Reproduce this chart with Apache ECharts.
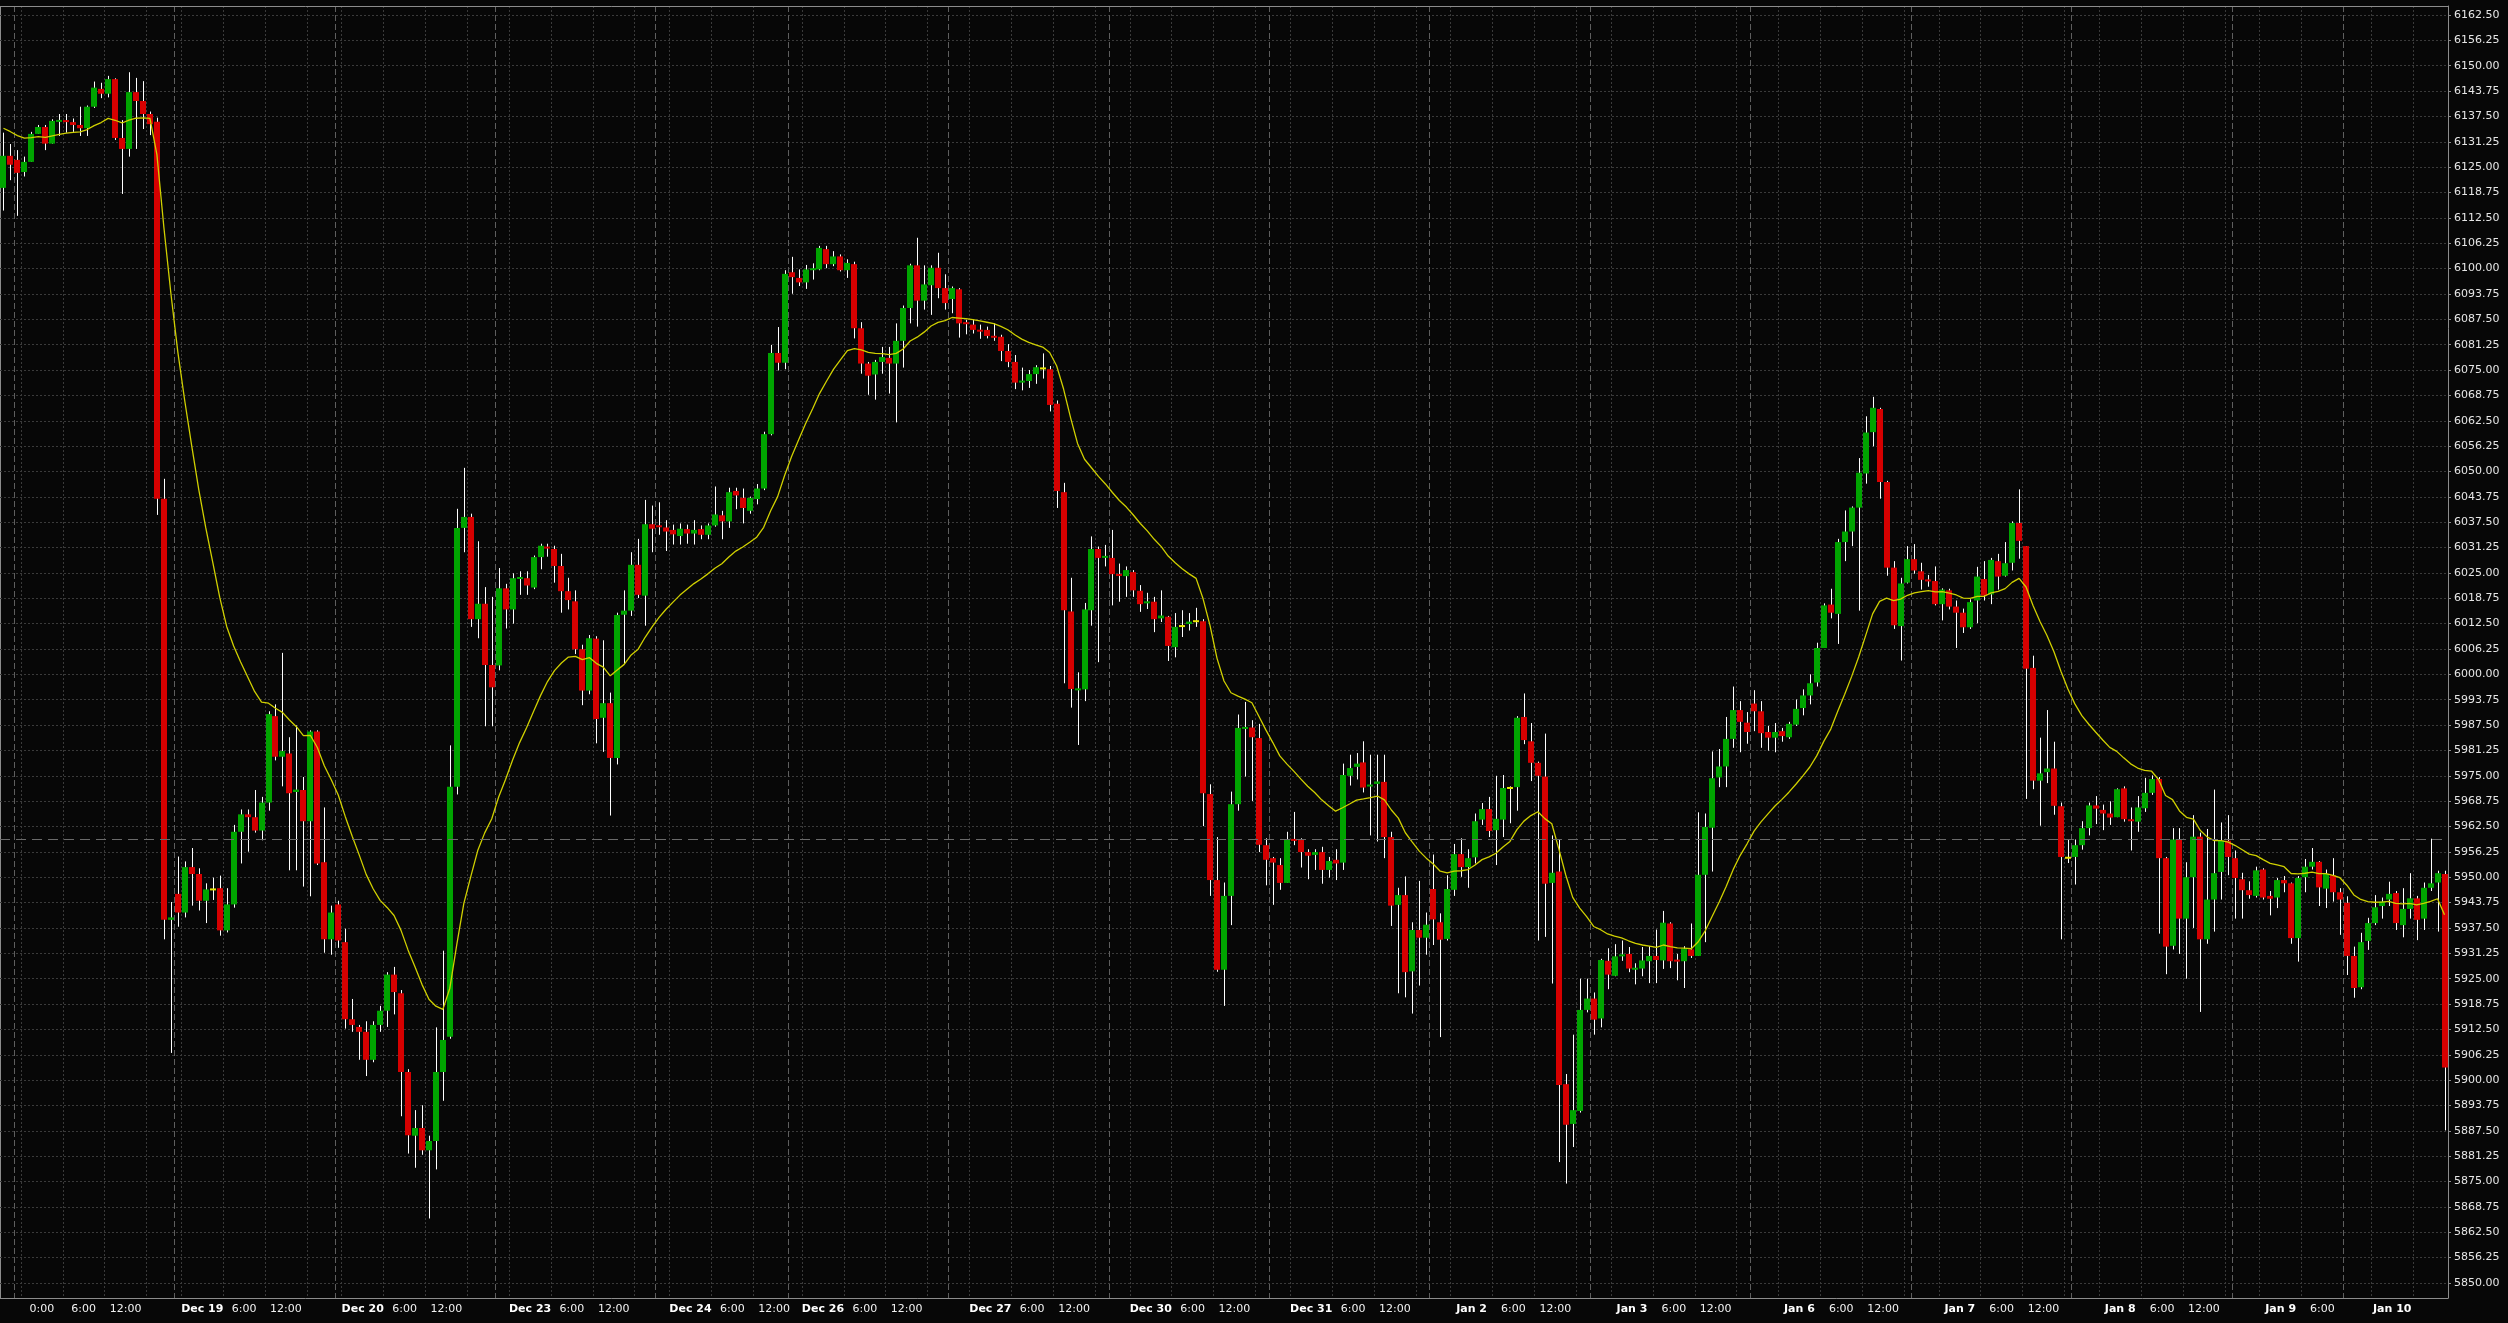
<!DOCTYPE html>
<html><head><meta charset="utf-8">
<script src="https://cdn.jsdelivr.net/npm/echarts@6/dist/echarts.min.js"></script>
<style>html,body{margin:0;padding:0;background:#070707;}#c{width:2508px;height:1323px;}</style>
</head><body><div id="c"></div><script>
// ---- hourly candles ----
const open = [
6119.9,6127.8,6126.8,6123.8,6126.3,6133.2,6134.9,6130.8,6136.2,6136.6,
6136.1,6135.4,6134.6,6139.9,6144.3,6143.1,6146.7,6132.2,6129.5,6143.5,
6141.3,6138.1,6136.2,6043.3,5939.5,5945.9,5941.3,5952.5,5950.8,5944.2,
5947.0,5947.3,5936.9,5943.3,5961.2,5965.5,5964.8,5961.5,5968.4,5989.7,
5979.7,5980.5,5971.0,5971.5,5963.8,5985.9,5953.7,5934.7,5943.3,5934.0,
5915.0,5913.1,5911.9,5905.0,5913.6,5917.1,5926.0,5921.4,5902.0,5886.3,
5888.2,5882.7,5885.0,5902.0,5910.7,5972.3,6036.1,6038.8,6013.6,6017.4,
6002.3,6002.2,6021.2,6016.0,6023.5,6023.7,6021.4,6028.9,6031.4,6030.9,
6026.7,6020.5,6018.0,6006.2,5996.0,6008.8,5989.3,5992.9,5979.4,6014.7,
6015.7,6027.0,6019.4,6037.0,6036.7,6036.2,6035.6,6034.1,6035.8,6034.7,
6035.8,6034.4,6036.7,6039.2,6037.7,6045.2,6043.5,6040.3,6043.2,6045.8,
6059.2,6079.2,6076.8,6099.1,6097.7,6096.6,6099.6,6099.8,6104.8,6101.1,
6103.0,6099.6,6101.1,6085.3,6076.6,6073.9,6077.0,6078.0,6076.6,6082.2,
6090.3,6100.8,6092.1,6095.9,6100.2,6095.2,6092.5,6094.9,6086.8,6086.2,
6084.9,6084.9,6083.4,6083.2,6079.7,6077.0,6071.9,6072.3,6074.0,6075.4,
6075.2,6066.7,6044.9,6015.5,5996.1,5996.3,6015.8,6030.9,6028.7,6028.7,
6024.7,6024.2,6025.2,6020.6,6017.5,6017.9,6013.8,6014.2,6006.7,6011.9,
6012.4,6013.1,6013.1,5970.5,5949.3,5927.2,5945.4,5968.0,5986.7,5986.9,
5984.3,5957.9,5954.7,5953.0,5948.6,5959.4,5959.2,5956.2,5955.5,5956.2,
5951.8,5954.3,5953.6,5975.0,5977.2,5978.3,5972.4,5973.0,5973.5,5959.9,
5943.2,5945.6,5926.8,5937.0,5935.1,5947.1,5938.9,5934.8,5946.9,5955.7,
5952.5,5954.9,5964.2,5966.8,5961.6,5964.2,5972.0,5972.2,5989.5,5983.5,
5978.2,5974.8,5948.6,5951.4,5899.0,5889.2,5892.4,5917.3,5920.1,5915.2,
5929.4,5925.7,5930.5,5931.1,5927.3,5927.5,5929.3,5930.6,5929.5,5938.6,
5929.6,5929.3,5932.2,5930.6,5950.6,5962.2,5974.6,5977.3,5984.1,5991.2,
5988.1,5992.8,5990.9,5985.8,5984.4,5986.0,5984.5,5987.6,5991.7,5994.8,
5998.0,6006.5,6017.2,6014.9,6032.6,6035.2,6041.1,6049.5,6059.7,6065.4,
6047.4,6026.3,6011.9,6022.6,6028.4,6025.4,6023.3,6023.0,6017.3,6020.7,
6016.7,6015.2,6011.6,6018.2,6023.5,6019.7,6027.9,6024.3,6027.5,6037.3,
6031.6,6001.6,5973.8,5975.9,5976.8,5967.5,5954.8,5955.0,5957.9,5962.1,
5967.7,5966.6,5965.7,5964.8,5971.9,5964.3,5963.7,5967.0,5970.8,5974.2,
5954.7,5933.1,5959.3,5939.8,5950.0,5960.0,5934.7,5944.5,5951.3,5959.0,
5954.7,5949.5,5946.8,5945.4,5951.9,5945.4,5945.0,5949.3,5948.5,5935.0,
5950.0,5952.6,5953.8,5947.2,5950.5,5946.3,5943.7,5930.6,5922.9,5934.3,
5938.7,5942.9,5944.5,5946.1,5938.2,5942.2,5944.8,5939.8,5947.4,5948.7,
5950.8];
const high = [
6133.5,6130.7,6129.2,6127.6,6133.7,6135.4,6135.4,6136.8,6138.1,6138.1,
6137.0,6139.9,6140.2,6146.1,6145.8,6147.5,6146.9,6136.6,6148.4,6147.0,
6146.2,6138.7,6137.2,6048.2,5943.9,5955.1,5953.9,5957.2,5952.2,5948.5,
5949.9,5950.4,5947.3,5962.9,5966.7,5966.7,5971.5,5969.8,5990.9,5992.6,
6005.3,5984.5,5987.4,5974.7,5986.2,5986.2,5967.2,5943.0,5944.2,5937.3,
5920.0,5913.6,5914.5,5914.5,5918.3,5926.6,5927.9,5922.2,5902.7,5892.6,
5893.8,5886.3,5913.0,5931.9,5982.5,6040.8,6050.9,6039.6,6032.8,6021.5,
6019.1,6026.2,6022.3,6024.9,6025.4,6025.4,6029.3,6032.2,6032.2,6031.7,
6029.7,6023.8,6020.7,6007.3,6009.7,6009.4,6008.4,5995.5,6015.2,6020.7,
6030.1,6033.4,6043.0,6041.6,6042.4,6038.0,6036.9,6037.2,6036.9,6038.0,
6036.7,6037.2,6046.3,6040.3,6046.0,6046.0,6045.8,6043.8,6046.9,6059.8,
6081.2,6085.6,6099.6,6102.9,6099.8,6100.9,6101.3,6105.6,6105.6,6104.3,
6103.5,6102.3,6101.7,6086.8,6077.0,6077.5,6080.7,6080.7,6086.5,6090.9,
6101.2,6107.6,6100.8,6100.8,6103.9,6098.6,6095.6,6095.2,6087.4,6087.4,
6086.2,6085.7,6086.5,6083.7,6081.4,6078.7,6075.6,6075.0,6076.2,6079.1,
6076.0,6067.5,6047.2,6023.8,6000.5,6017.6,6034.0,6031.5,6031.9,6035.6,
6027.3,6026.6,6025.7,6022.0,6020.1,6019.1,6020.7,6014.4,6015.1,6015.8,
6015.1,6016.4,6013.6,5972.9,5959.9,5948.7,5971.1,5990.1,5993.2,5988.7,
5987.8,5959.6,5955.0,5954.7,5961.2,5966.1,5959.6,5956.9,5956.9,5957.5,
5955.0,5956.9,5978.0,5980.2,5980.6,5983.5,5980.2,5980.2,5980.2,5961.2,
5947.4,5950.2,5938.9,5949.1,5941.3,5955.6,5941.1,5950.5,5958.2,5959.6,
5956.9,5965.7,5968.3,5969.8,5975.0,5975.2,5972.4,5989.7,5995.3,5988.0,
5978.5,5985.4,5960.3,5959.4,5901.5,5911.2,5925.0,5925.0,5921.6,5929.9,
5932.5,5933.5,5934.4,5932.8,5928.8,5932.8,5933.0,5937.1,5941.7,5938.9,
5931.1,5933.0,5938.6,5966.0,5965.7,5981.0,5981.6,5989.5,5997.0,5993.4,
5990.7,5996.1,5993.4,5987.3,5988.0,5986.8,5988.3,5993.8,5996.3,6000.0,
6007.8,6017.5,6021.1,6033.4,6040.4,6041.4,6053.3,6063.6,6068.4,6065.7,
6047.7,6027.9,6023.8,6031.6,6032.1,6027.5,6024.5,6026.6,6021.2,6021.1,
6018.2,6016.2,6018.5,6026.5,6027.9,6028.7,6029.7,6032.6,6037.7,6045.6,
6031.6,6004.6,5984.4,5991.2,5983.4,5968.4,5959.3,5959.3,5963.8,5968.4,
5970.0,5967.9,5968.7,5971.9,5972.4,5967.2,5970.0,5974.5,5975.1,5974.7,
5955.0,5962.1,5962.1,5953.7,5965.3,5961.0,5961.9,5971.6,5963.5,5965.3,
5956.6,5951.1,5949.0,5952.6,5952.2,5946.6,5949.8,5950.3,5948.7,5950.3,
5954.5,5957.2,5954.0,5951.9,5954.7,5947.3,5945.3,5932.9,5936.3,5940.0,
5945.6,5945.0,5948.9,5946.6,5947.3,5951.0,5945.4,5948.7,5959.5,5951.6,
5951.6];
const low = [
6114.3,6121.8,6113.0,6122.7,6126.3,6133.2,6129.2,6130.8,6132.7,6133.5,
6133.7,6132.7,6132.7,6139.6,6142.0,6142.2,6131.7,6118.4,6127.6,6129.5,
6134.4,6132.9,6039.3,5934.7,5906.7,5937.8,5940.1,5943.0,5941.8,5938.7,
5944.4,5935.6,5936.4,5942.5,5953.4,5956.3,5961.0,5959.1,5966.4,5978.8,
5972.4,5951.7,5951.7,5947.7,5945.3,5953.0,5931.4,5930.9,5932.6,5912.7,
5911.9,5905.0,5901.0,5904.4,5911.9,5913.1,5916.2,5891.1,5881.9,5878.4,
5881.6,5865.9,5878.0,5894.9,5910.2,5970.4,6030.1,6011.7,6008.9,5987.2,
5987.2,6001.0,6011.3,6012.5,6019.6,6019.6,6021.0,6025.9,6029.0,6022.6,
6015.2,6016.0,6005.0,5992.4,5995.1,5983.0,5980.9,5965.2,5977.8,6002.6,
6014.4,6018.8,6012.0,6030.1,6034.4,6030.4,6032.0,6032.0,6032.2,6032.0,
6033.3,6033.3,6036.4,6033.3,6036.1,6040.7,6037.2,6039.6,6041.9,6045.4,
6058.9,6074.9,6075.2,6093.8,6095.7,6095.0,6097.3,6099.6,6100.1,6100.6,
6099.3,6097.7,6082.8,6074.1,6068.9,6067.7,6074.1,6069.2,6062.1,6075.6,
6086.5,6085.7,6089.9,6088.6,6092.7,6089.9,6089.0,6083.0,6083.8,6084.0,
6082.7,6082.8,6082.2,6077.2,6075.7,6070.3,6070.0,6070.6,6071.6,6072.9,
6064.8,6041.0,5997.8,5991.8,5982.6,5993.4,6012.0,6003.0,6026.6,6017.0,
6017.9,6019.1,6019.1,6015.4,6016.1,6010.4,6012.9,6003.3,6004.2,6009.2,
6010.8,6011.7,5962.6,5945.4,5926.7,5918.3,5938.2,5966.4,5974.8,5968.8,
5956.2,5948.0,5943.2,5946.9,5948.6,5957.9,5952.4,5949.5,5951.8,5948.4,
5949.9,5949.3,5951.8,5972.6,5974.1,5970.9,5960.3,5958.8,5954.7,5938.0,
5921.4,5920.4,5916.4,5923.3,5930.9,5933.3,5910.6,5934.4,5945.4,5950.1,
5947.4,5953.4,5962.9,5959.9,5953.0,5959.9,5963.3,5966.4,5982.8,5973.7,
5934.4,5935.3,5923.8,5879.8,5874.5,5883.5,5892.0,5916.7,5911.2,5913.0,
5922.4,5925.6,5929.4,5926.6,5923.6,5925.6,5923.9,5923.9,5927.4,5927.6,
5924.6,5922.7,5930.1,5930.6,5934.0,5951.4,5972.2,5972.2,5981.9,5980.8,
5982.9,5986.0,5981.9,5981.2,5980.8,5983.4,5984.1,5987.3,5989.9,5992.6,
5997.0,6006.5,6013.8,6007.5,6027.9,6031.6,6015.7,6047.0,6056.2,6043.3,
6024.3,6011.2,6003.4,6022.4,6024.8,6020.9,6021.6,6017.0,6013.3,6016.0,
6006.5,6010.2,6011.2,6012.6,6018.2,6017.3,6020.9,6024.1,6025.6,6028.5,
5969.3,5971.7,5962.7,5973.2,5965.4,5934.7,5953.5,5948.2,5956.8,5960.3,
5963.1,5961.6,5962.9,5964.8,5963.7,5956.6,5961.2,5966.1,5970.3,5936.1,
5926.1,5932.2,5931.1,5925.0,5937.5,5916.8,5933.6,5936.6,5944.5,5950.5,
5939.8,5939.8,5944.7,5945.0,5944.5,5940.6,5942.4,5946.3,5933.6,5929.2,
5946.3,5951.9,5942.9,5942.4,5944.0,5935.8,5925.9,5920.3,5922.4,5932.1,
5938.2,5939.8,5942.9,5937.0,5935.2,5939.8,5934.5,5937.0,5946.6,5936.6,
5887.6];
const close = [
6127.8,6125.6,6123.6,6126.3,6133.2,6134.9,6130.8,6136.4,6136.6,6136.1,
6135.4,6134.6,6139.9,6144.6,6143.1,6146.7,6132.2,6129.5,6143.5,6141.3,
6138.1,6135.6,6043.3,5939.5,5940.1,5941.3,5952.5,5950.8,5944.2,5947.0,
5947.0,5936.9,5943.3,5961.2,5965.5,5964.8,5961.5,5968.4,5990.2,5979.7,
5981.1,5970.7,5971.6,5963.8,5985.9,5953.4,5934.7,5941.3,5934.4,5915.0,
5913.6,5911.9,5905.0,5913.6,5917.1,5926.0,5921.7,5902.0,5886.4,5888.2,
5882.7,5885.0,5902.0,5909.9,5972.3,6036.1,6038.8,6013.6,6017.4,6002.3,
5996.8,6021.2,6016.0,6023.7,6024.0,6021.9,6028.9,6031.7,6031.1,6026.7,
6020.5,6018.3,6006.2,5996.0,6008.9,5989.0,5992.9,5979.4,6014.6,6015.7,
6027.0,6019.6,6037.0,6035.9,6036.3,6035.2,6034.5,6035.9,6034.7,6035.6,
6034.4,6036.7,6039.4,6037.7,6044.9,6044.1,6041.0,6043.5,6045.8,6059.2,
6079.2,6076.8,6098.7,6097.9,6096.6,6099.8,6100.1,6105.1,6101.1,6103.0,
6099.6,6101.4,6085.3,6076.6,6073.6,6077.0,6078.2,6076.6,6082.2,6090.3,
6100.8,6092.1,6096.1,6100.2,6095.2,6091.5,6095.2,6086.5,6086.3,6084.9,
6084.5,6083.4,6083.0,6079.7,6077.0,6071.9,6072.4,6074.0,6075.7,6075.4,
6066.4,6045.2,6015.8,5996.4,5996.5,6016.0,6030.9,6028.7,6029.2,6024.7,
6024.3,6025.7,6020.7,6017.3,6018.0,6013.6,6014.5,6007.0,6011.7,6011.9,
6013.0,6013.1,5970.7,5949.3,5927.2,5945.4,5968.0,5986.8,5986.9,5984.5,
5958.0,5954.3,5953.6,5948.6,5959.4,5959.0,5956.2,5955.3,5956.2,5951.8,
5954.0,5953.4,5975.2,5976.9,5978.0,5972.1,5972.8,5973.6,5959.9,5943.0,
5945.6,5926.6,5937.0,5935.1,5938.3,5939.6,5934.6,5947.1,5955.7,5952.5,
5954.7,5963.8,5966.8,5961.4,5964.4,5972.0,5972.0,5989.3,5983.8,5978.2,
5975.0,5948.4,5951.1,5898.8,5889.0,5892.6,5917.3,5920.1,5914.9,5929.6,
5926.0,5930.5,5931.0,5927.5,5927.6,5929.5,5930.6,5929.6,5938.8,5929.3,
5929.3,5932.4,5930.6,5950.6,5962.4,5974.4,5977.3,5984.1,5991.2,5988.3,
5985.8,5990.9,5985.5,5984.4,5985.8,5984.8,5987.8,5991.5,5994.8,5997.8,
6006.5,6017.0,6015.2,6032.6,6035.2,6041.1,6049.7,6059.6,6065.7,6047.4,
6026.3,6012.1,6022.4,6028.4,6025.6,6023.3,6023.0,6017.3,6020.9,6016.7,
6015.2,6011.6,6017.8,6024.1,6019.4,6028.2,6024.1,6027.4,6037.3,6032.9,
6001.4,5973.8,5975.6,5976.8,5967.6,5955.0,5954.8,5957.9,5962.1,5967.7,
5966.9,5965.7,5964.7,5971.7,5964.3,5963.8,5967.2,5970.8,5974.2,5954.7,
5932.9,5959.3,5939.8,5950.0,5960.0,5934.7,5944.5,5951.0,5959.0,5955.0,
5949.8,5946.8,5945.6,5951.7,5945.0,5944.7,5949.3,5948.5,5935.0,5949.8,
5952.6,5953.8,5947.5,5950.8,5946.3,5944.5,5930.6,5922.7,5934.0,5938.7,
5942.6,5944.0,5945.9,5938.7,5942.2,5944.8,5939.5,5947.4,5948.5,5951.0,
5903.1];

// moving average (EMA of close); first value
const maStart = 6134.6;
const maPeriod = 20;
// horizontal dashed reference price
const refPrice = 5959.3;

// session starts (first candle index of each day) -> dashed vertical lines
const dayStarts = [2,25,48,71,94,113,136,159,182,205,228,251,274,297,320,336];
// 6-hour dotted vertical lines (left edge of candle index)
const dottedIdx = [3,9,15,21, 26,32,38,44, 49,55,61,67, 73,79,85,91, 96,102,108,
  115,121,127,133, 139,145,151,157, 162,168,174,180, 185,191,197,203, 208,214,220,226,
  231,237,243,249, 255,261,267,273, 278,284,290,296, 301,307,313,319, 324,330, 340,346];
// x tick labels (candle index, text)
const xLabelIdx = [5,11,17, 28,34,40, 51,57,63, 75,81,87, 98,104,110, 117,123,129,
  141,147,153, 164,170,176, 187,193,199, 210,216,222, 233,239,245, 257,263,269,
  280,286,292, 303,309,315, 326,332, 342];
const xLabelText = ['0:00','6:00','12:00','Dec 19','6:00','12:00','Dec 20','6:00','12:00',
  'Dec 23','6:00','12:00','Dec 24','6:00','12:00','Dec 26','6:00','12:00',
  'Dec 27','6:00','12:00','Dec 30','6:00','12:00','Dec 31','6:00','12:00',
  'Jan 2','6:00','12:00','Jan 3','6:00','12:00','Jan 6','6:00','12:00',
  'Jan 7','6:00','12:00','Jan 8','6:00','12:00','Jan 9','6:00','Jan 10'];
// y tick labels
const yTicks = [5850,5856.25,5862.5,5868.75,5875,5881.25,5887.5,5893.75,5900,5906.25,
  5912.5,5918.75,5925,5931.25,5937.5,5943.75,5950,5956.25,5962.5,5968.75,5975,5981.25,
  5987.5,5993.75,6000,6006.25,6012.5,6018.75,6025,6031.25,6037.5,6043.75,6050,6056.25,
  6062.5,6068.75,6075,6081.25,6087.5,6093.75,6100,6106.25,6112.5,6118.75,6125,6131.25,
  6137.5,6143.75,6150,6156.25,6162.5];

// ---- build ----
const cats = open.map((_, i) => String(i));
const candleData = open.map((o, i) => [i, o, close[i], low[i], high[i]]);
const alpha = 2 / (maPeriod + 1);
const ma = [];
let e = maStart;
for (let i = 0; i < close.length; i++) {
  if (i > 0) e = e + alpha * (close[i] - e);
  ma.push([i, +e.toFixed(2)]);
}
const labelMap = new Map(xLabelIdx.map((k, j) => [k, xLabelText[j]]));
const daySet = new Set(dayStarts);
const dotSet = new Set(dottedIdx);

const GREEN = '#00a400', RED = '#d60000', DOJI = '#e8e800';
function renderCandle(params, api) {
  const i = api.value(0);
  const o = api.value(1), c = api.value(2), l = api.value(3), h = api.value(4);
  const pO = api.coord([i, o]), pC = api.coord([i, c]);
  const yH = api.coord([i, h])[1], yL = api.coord([i, l])[1];
  const left = Math.round(pO[0] - 3);
  let top = Math.min(pO[1], pC[1]);
  let hgt = Math.abs(pO[1] - pC[1]);
  const fill = c > o ? GREEN : (c < o ? RED : DOJI);
  if (hgt < 2) { top = (pO[1] + pC[1]) / 2 - 1; hgt = 2; }
  return {
    type: 'group',
    children: [
      { type: 'line', shape: { x1: left + 3.5, y1: yH, x2: left + 3.5, y2: yL },
        style: { stroke: '#ffffff', lineWidth: 1 } },
      { type: 'rect', shape: { x: left, y: top, width: 6, height: hgt },
        style: { fill: fill } }
    ]
  };
}

const AX = '#8c8c8c';
const chart = echarts.init(document.getElementById('c'), null, { renderer: 'canvas' });
chart.setOption({
  animation: false,
  backgroundColor: '#070707',
  grid: { left: -2, top: 6, width: 2450, height: 1292, containLabel: false },
  xAxis: [
    {
      type: 'category', data: cats, boundaryGap: true, position: 'bottom',
      axisLine: { show: true, lineStyle: { color: AX, width: 1 } },
      axisTick: { show: false },
      axisLabel: {
        show: true, margin: 6, padding: [0, 0, 0, 7],
        interval: (idx) => labelMap.has(idx),
        formatter: (val, idx) => {
          const t = labelMap.get(Number(val));
          if (!t) return '';
          return t.indexOf(':') >= 0 ? '{n|' + t + '}' : '{b|' + t + '}';
        },
        rich: {
          b: { fontFamily: 'DejaVu Sans', fontSize: 11, fontWeight: 'bold', color: '#ffffff' },
          n: { fontFamily: 'DejaVu Sans', fontSize: 11, color: '#f2f2f2' }
        }
      },
      splitLine: { show: true, interval: (idx) => dotSet.has(idx),
        lineStyle: { color: '#3a3a3a', type: [2, 2], width: 1 } }
    },
    {
      type: 'category', data: cats, boundaryGap: true, position: 'top',
      axisLine: { show: true, lineStyle: { color: AX, width: 1 } },
      axisTick: { show: false }, axisLabel: { show: false },
      splitLine: { show: true, interval: (idx) => daySet.has(idx),
        lineStyle: { color: '#5e5e5e', type: [6, 3], width: 1 } }
    }
  ],
  yAxis: {
    type: 'value', position: 'right', min: 5846.3, max: 6164.72,
    axisLine: { show: true, lineStyle: { color: AX, width: 1 } },
    axisTick: { show: true, length: 3, customValues: yTicks, lineStyle: { color: AX } },
    axisLabel: { show: true, customValues: yTicks, margin: 6, color: '#e6e6e6',
      fontFamily: 'DejaVu Sans', fontSize: 11,
      formatter: (v) => Number(v).toFixed(2) },
    splitLine: { show: true, lineStyle: { color: '#3a3a3a', type: [2, 2], width: 1 } }
  },
  graphic: [
    { type: 'line', shape: { x1: 0.5, y1: 6, x2: 0.5, y2: 1298 }, style: { stroke: AX, lineWidth: 1 }, silent: true }
  ],
  series: [
    {
      type: 'custom', name: 'price', xAxisIndex: 0, yAxisIndex: 0,
      renderItem: renderCandle, data: candleData,
      encode: { x: 0, y: [1, 2, 3, 4] }, clip: true, z: 3,
      markLine: { silent: true, symbol: 'none', label: { show: false },
        lineStyle: { color: '#6a6a6a', type: [10, 6], width: 1 },
        data: [{ yAxis: refPrice }] }
    },
    {
      type: 'line', name: 'MA', xAxisIndex: 0, yAxisIndex: 0, data: ma,
      showSymbol: false, symbol: 'none', smooth: false, z: 4,
      lineStyle: { color: '#d0d000', width: 1.3 }
    }
  ]
});
</script></body></html>
